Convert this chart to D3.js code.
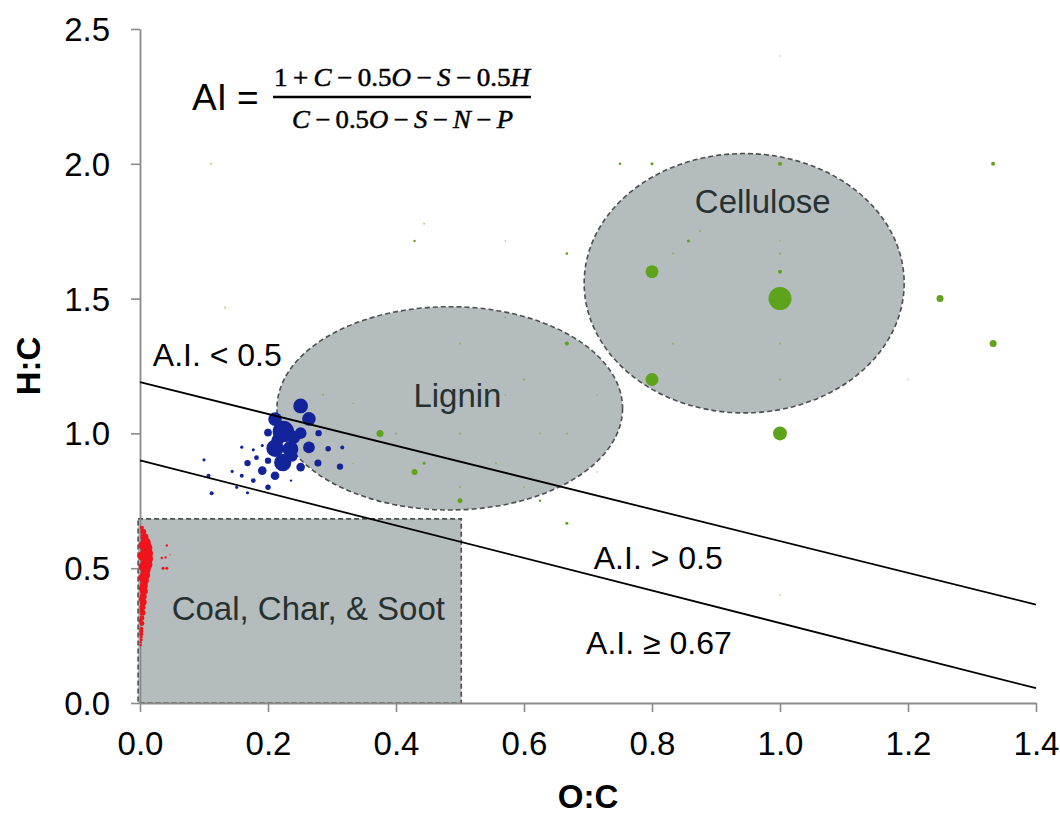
<!DOCTYPE html>
<html>
<head>
<meta charset="utf-8">
<script src="https://cdn.jsdelivr.net/npm/d3@7"></script>
<style>
  html, body { margin: 0; padding: 0; background: #ffffff; }
  svg { display: block; }
</style>
</head>
<body>
<svg id="chart" width="1060" height="816"></svg>
<script>
// ---- Data (van Krevelen space: O:C vs H:C) ----
const xTicks = [0.0, 0.2, 0.4, 0.6, 0.8, 1.0, 1.2, 1.4];
const yTicks = [0.0, 0.5, 1.0, 1.5, 2.0, 2.5];

// [O:C, H:C, relative abundance]
const redPoints = [
  [0.003, 0.650, 2.8], [0.005, 0.635, 6.25], [0.007, 0.615, 11], [0.009, 0.595, 17.4],
  [0.010, 0.575, 25], [0.011, 0.555, 25], [0.011, 0.535, 25], [0.010, 0.515, 25],
  [0.009, 0.495, 17.4], [0.008, 0.475, 17.4], [0.007, 0.455, 14], [0.006, 0.435, 11],
  [0.006, 0.415, 11], [0.005, 0.395, 8.5], [0.005, 0.375, 8.5], [0.004, 0.355, 6.25],
  [0.004, 0.335, 6.25], [0.003, 0.315, 4.3], [0.003, 0.295, 4.3], [0.002, 0.275, 2.8],
  [0.002, 0.265, 2.8], [0.002, 0.255, 2.8], [0.002, 0.245, 1.6], [0.002, 0.235, 1.6],
  [0.001, 0.225, 1.0], [0.001, 0.215, 1.0], [0.004, 0.585, 11], [0.004, 0.545, 17.4],
  [0.004, 0.505, 11], [0.003, 0.465, 8.5], [0.003, 0.425, 6.25], [0.002, 0.385, 4.3],
  [0.002, 0.345, 2.8], [0.001, 0.305, 2.8],
  [0.042, 0.584, 1.0], [0.034, 0.538, 1.0], [0.040, 0.540, 1.0], [0.047, 0.550, 0.45],
  [0.036, 0.500, 1.6], [0.042, 0.500, 1.6]
];

const bluePoints = [
  [0.251, 1.102, 38], [0.264, 1.054, 32], [0.211, 1.053, 32], [0.224, 1.007, 80],
  [0.200, 1.003, 10.5], [0.251, 1.001, 24], [0.279, 1.001, 7], [0.211, 0.945, 52],
  [0.235, 0.942, 44], [0.264, 0.948, 24], [0.294, 0.943, 5.2], [0.316, 0.948, 2.8],
  [0.223, 0.892, 52], [0.251, 0.875, 13], [0.278, 0.890, 8.7], [0.3125, 0.877, 7],
  [0.159, 0.949, 1.7], [0.177, 0.939, 1.7], [0.191, 0.955, 1.7], [0.182, 0.910, 3.9],
  [0.200, 0.899, 7], [0.168, 0.890, 7], [0.191, 0.862, 13], [0.211, 0.843, 13],
  [0.144, 0.859, 1.7], [0.159, 0.843, 2.8], [0.177, 0.825, 3.9], [0.200, 0.800, 5.2],
  [0.236, 0.825, 1.0], [0.100, 0.902, 1.7], [0.107, 0.843, 2.8], [0.112, 0.778, 2.8],
  [0.151, 0.800, 1.7], [0.168, 0.780, 1.7], [0.240, 0.985, 30], [0.215, 0.975, 26],
  [0.238, 0.915, 20]
];

const greenPoints = [
  [0.750, 2.000, 1.2], [0.800, 2.000, 1.6], [1.000, 2.000, 2.8], [1.333, 2.000, 2.8],
  [0.875, 1.750, 0.7], [0.857, 1.714, 1.6], [0.667, 1.667, 1.2], [0.833, 1.667, 0.7],
  [1.000, 1.714, 0.35], [1.000, 1.667, 0.7], [0.800, 1.600, 29], [1.000, 1.600, 2.8],
  [1.000, 1.500, 92], [1.250, 1.500, 8.5], [0.667, 1.333, 2.8], [0.833, 1.333, 0.7],
  [1.000, 1.333, 0.7], [1.333, 1.333, 8.5], [0.800, 1.200, 29], [1.000, 1.200, 0.7],
  [1.200, 1.200, 0.35], [0.714, 1.143, 0.35], [1.000, 1.000, 34],
  [0.111, 2.000, 0.7], [0.444, 1.778, 0.7], [0.429, 1.714, 1.0], [0.571, 1.714, 0.45],
  [0.133, 1.467, 0.7], [0.571, 1.429, 0.7], [0.500, 1.333, 0.7], [0.600, 1.200, 0.7],
  [0.571, 1.143, 0.45], [0.286, 1.143, 0.7], [0.333, 1.111, 0.45], [0.375, 1.000, 8.5],
  [0.400, 1.000, 0.7], [0.500, 1.000, 0.7], [0.625, 1.000, 0.45], [0.667, 1.000, 0.7],
  [0.333, 0.889, 0.45], [0.444, 0.889, 1.6], [0.556, 0.889, 0.7], [0.429, 0.857, 6.25],
  [0.500, 0.800, 0.7], [0.600, 0.800, 0.45], [0.500, 0.750, 4.3], [0.625, 0.750, 1.0],
  [0.714, 0.857, 0.45], [0.667, 0.667, 1.6], [0.750, 0.750, 0.45], [1.000, 0.400, 0.45],
  [1.000, 2.400, 0.45]
];

// Compound-class regions, in O:C / H:C units
const lignin    = { cx: 0.484, cy: 1.093, rx: 0.270, ry: 0.377 };
const cellulose = { cx: 0.944, cy: 1.557, rx: 0.250, ry: 0.481 };
const coal      = { x0: -0.003, x1: 0.502, y0: 0.0, y1: 0.683 };

// Aromaticity index threshold lines: [O:C, H:C] end points
const aiHalf = [[0, 1.19], [1.4, 0.365]];
const aiTwoThirds = [[0, 0.90], [1.4, 0.055]];

// ---- Layout ----
const svg = d3.select("#chart");
const W = 1060, H = 816;
const margin = { left: 140, top: 29, right: 24, bottom: 113 };
const sans = "'Liberation Sans', Arial, sans-serif";

svg.append("rect").attr("width", W).attr("height", H).attr("fill", "#ffffff");

const x = d3.scaleLinear().domain([0, 1.4]).range([margin.left, W - margin.right]);
const y = d3.scaleLinear().domain([0, 2.5]).range([H - margin.bottom, margin.top]);
const r = d3.scaleSqrt().domain([0, 100]).range([0, 12]);

const regionFill = "#b5bcbe";
const regionStroke = "#4d4f50";
const regionText = "#263232";

// Regions
svg.append("rect")
  .attr("x", x(coal.x0)).attr("y", y(coal.y1))
  .attr("width", x(coal.x1) - x(coal.x0)).attr("height", y(coal.y0) - y(coal.y1))
  .attr("fill", regionFill).attr("stroke", regionStroke)
  .attr("stroke-width", 1.6).attr("stroke-dasharray", "5,3");

[lignin, cellulose].forEach(e => {
  svg.append("ellipse")
    .attr("cx", x(e.cx)).attr("cy", y(e.cy))
    .attr("rx", x(e.rx) - x(0)).attr("ry", y(0) - y(e.ry))
    .attr("fill", regionFill).attr("stroke", regionStroke)
    .attr("stroke-width", 1.6).attr("stroke-dasharray", "5,3");
});

// Axes
const xAxis = d3.axisBottom(x).tickValues(xTicks).tickFormat(d3.format(".1f"))
  .tickSize(9).tickSizeOuter(0).tickPadding(20);
const yAxis = d3.axisLeft(y).tickValues(yTicks).tickFormat(d3.format(".1f"))
  .tickSize(9).tickSizeOuter(0).tickPadding(21);

const gx = svg.append("g").attr("transform", `translate(0,${y(0)})`).call(xAxis);
const gy = svg.append("g").attr("transform", `translate(${x(0)},0)`).call(yAxis);
[gx, gy].forEach(g => {
  g.select(".domain").attr("stroke", "#8a8a8a").attr("stroke-width", 1.8);
  g.selectAll(".tick line").attr("stroke", "#8a8a8a").attr("stroke-width", 1.6);
  g.selectAll(".tick text").attr("fill", "#000").attr("font-family", sans).attr("font-size", 33);
});
gy.selectAll(".tick text").attr("dy", "0.35em");

// Axis titles
svg.append("text").attr("x", 588).attr("y", 808).attr("text-anchor", "middle")
  .attr("font-family", sans).attr("font-weight", "bold").attr("font-size", 33).text("O:C");
svg.append("text").attr("transform", "translate(40,366) rotate(-90)").attr("text-anchor", "middle")
  .attr("font-family", sans).attr("font-weight", "bold").attr("font-size", 33).text("H:C");

// Points
function drawPoints(data, color) {
  svg.append("g").selectAll("circle").data(data).join("circle")
    .attr("cx", d => x(d[0])).attr("cy", d => y(d[1]))
    .attr("r", d => Math.max(0.7, r(d[2])))
    .attr("fill", color)
    .attr("fill-opacity", d => r(d[2]) < 1.1 ? 0.55 : 1);
}
drawPoints(greenPoints, "#5ea31c");
drawPoints(bluePoints, "#13249b");
drawPoints(redPoints, "#f0141a");

// Region labels
const regionLabels = [
  { text: "Lignin", oc: 0.496, hc: 1.099 },
  { text: "Cellulose", oc: 0.973, hc: 1.819 },
  { text: "Coal, Char, & Soot", oc: 0.263, hc: 0.308 }
];
svg.append("g").selectAll("text").data(regionLabels).join("text")
  .attr("x", d => x(d.oc)).attr("y", d => y(d.hc)).attr("text-anchor", "middle")
  .attr("font-family", sans).attr("font-size", 33).attr("fill", regionText)
  .text(d => d.text);

// A.I. threshold lines
const line = d3.line().x(d => x(d[0])).y(d => y(d[1]));
[aiHalf, aiTwoThirds].forEach(seg => {
  svg.append("path").attr("d", line(seg)).attr("fill", "none")
    .attr("stroke", "#000").attr("stroke-width", 1.8);
});

const aiLabels = [
  { text: "A.I. < 0.5", oc: 0.020, hc: 1.251 },
  { text: "A.I. > 0.5", oc: 0.709, hc: 0.497 },
  { text: "A.I. \u2265 0.67", oc: 0.697, hc: 0.182 }
];
svg.append("g").selectAll("text").data(aiLabels).join("text")
  .attr("x", d => x(d.oc)).attr("y", d => y(d.hc))
  .attr("font-family", sans).attr("font-size", 32).attr("fill", "#000")
  .text(d => d.text);

// Aromaticity index formula
const f = svg.append("g");
f.append("text").attr("x", 192).attr("y", 110).attr("font-family", sans)
  .attr("font-size", 37).text("AI");
f.append("text").attr("x", 237).attr("y", 110).attr("font-family", sans)
  .attr("font-size", 37).text("=");
f.append("line").attr("x1", 273).attr("x2", 531).attr("y1", 97).attr("y2", 97)
  .attr("stroke", "#000").attr("stroke-width", 2.4);

// Operators get a little breathing room, as in typeset math
const mathFont = "'Liberation Serif', 'DejaVu Serif', serif";
function mathText(parts, xPos, yPos, len) {
  const t = f.append("text").attr("x", xPos).attr("y", yPos)
    .attr("font-family", mathFont).attr("font-size", 25)
    .attr("stroke", "#000").attr("stroke-width", 0.5)
    .attr("textLength", len).attr("lengthAdjust", "spacingAndGlyphs")
    .attr("xml:space", "preserve");
  parts.forEach(p => {
    const isVar = /^[A-Z]$/.test(p);
    const isOp = p === "+" || p === "\u2212";
    t.append("tspan").attr("font-style", isVar ? "italic" : "normal")
      .text(isOp ? "\u2009" + p + "\u2009" : p);
  });
}
mathText(["1", "+", "C", "\u2212", "0.5", "O", "\u2212", "S", "\u2212", "0.5", "H"], 274, 86, 256);
mathText(["C", "\u2212", "0.5", "O", "\u2212", "S", "\u2212", "N", "\u2212", "P"], 292, 128, 221);
</script>
</body>
</html>
